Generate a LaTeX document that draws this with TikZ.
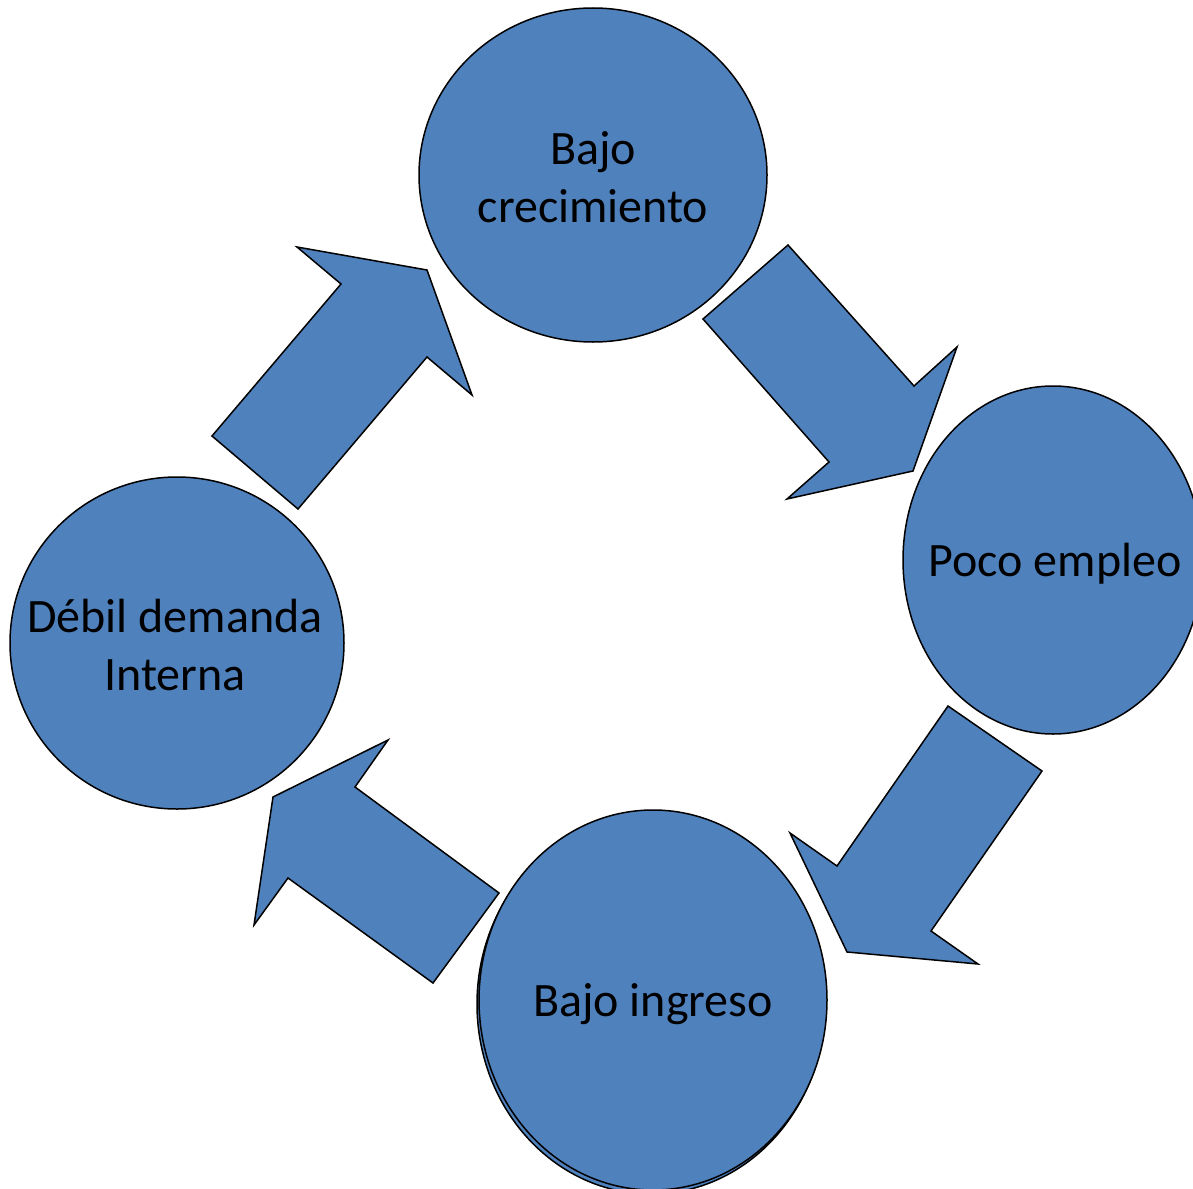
\documentclass[tikz,border=0pt]{standalone}
\usepackage{fontspec}
\newfontfamily\circlefont{Carlito}
\definecolor{B}{HTML}{4F81BD}
\definecolor{black}{HTML}{000000}
\usetikzlibrary{shapes.geometric}
\tikzstyle{base}=[x=0.5pt, y=-0.5pt, line join=miter]
\tikzstyle{bubble}=[ellipse, draw=black, fill=B, line width=0.75pt, inner sep=0pt]
\tikzstyle{bubbletext}=[align=center, inner sep=0pt, font=\circlefont\fontsize{24}{29}\selectfont]
\tikzstyle{blockarrow}=[draw=black, fill=B, line width=0.75pt]

\begin{document}
\begin{tikzpicture}[base]
    \useasboundingbox (0,0) rectangle (1193,1188);
        % arrows
        \draw [blockarrow] (212,436) -- (341,284) -- (297,247) -- (427,270) -- (472,395) -- (427,357) -- (298,509) -- cycle;
        \draw [blockarrow] (703,319) -- (788,245) -- (914,386) -- (957,347) -- (913,471) -- (787,499) -- (829,462) -- cycle;
        \draw [blockarrow] (948,706) -- (1042,771) -- (931,931) -- (978,964) -- (847,952) -- (790,833) -- (837,866) -- cycle;
        \draw [blockarrow] (499,893) -- (433,983) -- (288,878) -- (254,925) -- (273,797) -- (388,740) -- (355,787) -- cycle;
        % circles
        \node [bubble, minimum width=174pt, minimum height=167pt,
               label={[bubbletext, yshift=-1pt]center:Bajo\\crecimiento}] (crecimiento) at (593,175) {};
        \node [bubble, minimum width=150pt, minimum height=174pt,
               label={[bubbletext, xshift=1pt, yshift=-2pt]center:Poco empleo}] (empleo) at (1053,560) {};
        \node [bubble, minimum width=174pt, minimum height=190pt] (ingresoback) at (651,1004) {};
        \node [bubble, minimum width=174pt, minimum height=190pt,
               label={[bubbletext, yshift=-2pt]center:Bajo ingreso}] (ingreso) at (653,1000) {};
        \node [bubble, minimum width=167pt, minimum height=166pt,
               label={[bubbletext, xshift=-1pt, yshift=-1pt]center:Débil demanda\\Interna}] (demanda) at (177,643) {};
    \end{tikzpicture}
\end{document}
